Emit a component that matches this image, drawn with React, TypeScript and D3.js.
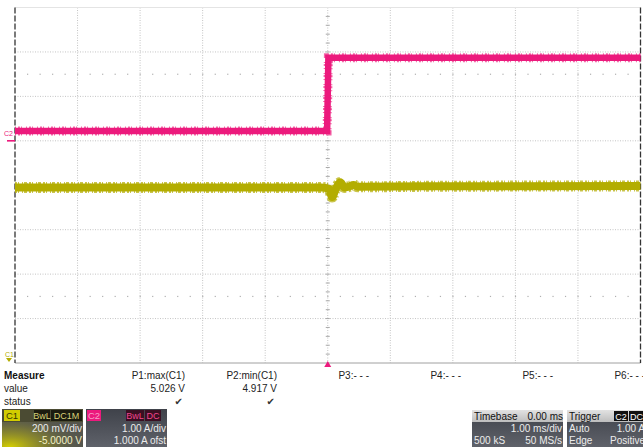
import React from "react";
import * as d3 from "d3";

// time axis (ms) and screen divisions
const timeDivs = d3.range(-5, 5.01, 1);
const vertDivs = d3.range(-4, 4.01, 1);

// C2 current trace (A), 1.00 A/div, 1.000 A offset
const c2Time = [-5, -0.01, 0.01, 5];
const c2Amps = [0.22, 0.22, 1.87, 1.87];

// C1 voltage trace (V), 200 mV/div, -5.0000 V offset
const c1Time = [-5, -0.1, 0.02, 0.07, 0.13, 0.2, 0.27, 0.34, 0.41, 0.48, 1.5, 5];
const c1Volts = [4.99, 4.99, 4.984, 4.947, 4.985, 5.013, 4.99, 4.994, 5.001, 4.993, 4.995, 4.997];

const measureLabels = ["P1:max(C1)", "P2:min(C1)", "P3:- - -", "P4:- - -", "P5:- - -", "P6:- - -"];
const measureValues = ["5.026 V", "4.917 V", "", "", "", ""];
const measureStatus = [true, true, false, false, false, false];

const PINK = "#ec1a7d";
const OLIVE = "#b3ad00";
const FONT = "'Liberation Sans', Arial, sans-serif";

export default function App() {
  const W = 643;
  const H = 447;
  const left = 15, right = 640.5, top = 7.5, bottom = 363;

  const x = d3.scaleLinear().domain([-5, 5]).range([left, right]);
  const yDiv = d3.scaleLinear().domain([-4, 4]).range([bottom, top]);
  const yC2 = d3.scaleLinear().domain([-5, 3]).range([bottom, top]);
  const yC1 = d3.scaleLinear().domain([4.2, 5.8]).range([bottom, top]);

  const c2Line = d3.line<number>().x((_, i) => x(c2Time[i])).y((d) => yC2(d));
  const c1Line = d3
    .line<number>()
    .x((_, i) => x(c1Time[i]))
    .y((d) => yC1(d))
    .curve(d3.curveMonotoneX);

  const minor = d3.range(-5, 5.001, 0.2);
  const minorV = d3.range(-4, 4.001, 0.2);
  const colRight = d3.scaleLinear().domain([0, 5]).range([185, 645]);

  const grid = "#c4c4c4";

  return (
    <svg
      width={W}
      height={H}
      style={{ position: "absolute", left: 0, top: 0, display: "block", background: "#fff" }}
      fontFamily={FONT}
    >
      <defs>
        <radialGradient id="c1glow" cx="0.1" cy="1" r="0.9">
          <stop offset="0" stopColor="#d6d000" />
          <stop offset="0.55" stopColor="#8d8a2a" stopOpacity="0.6" />
          <stop offset="1" stopColor="#55564d" stopOpacity="0" />
        </radialGradient>
        <linearGradient id="darkbg" x1="0" y1="0" x2="0" y2="1">
          <stop offset="0" stopColor="#3f424a" />
          <stop offset="1" stopColor="#5f626a" />
        </linearGradient>
        <linearGradient id="lightbg" x1="0" y1="0" x2="0" y2="1">
          <stop offset="0" stopColor="#e2e2e2" />
          <stop offset="1" stopColor="#bdbdbd" />
        </linearGradient>
      </defs>

      {/* grid */}
      {timeDivs.slice(1, -1).map((t) => (
        <line key={"v" + t} x1={x(t)} x2={x(t)} y1={top} y2={bottom} stroke={grid} strokeDasharray="1 1.5" />
      ))}
      {vertDivs.slice(1, -1).map((d) => (
        <line key={"h" + d} x1={left} x2={right} y1={yDiv(d)} y2={yDiv(d)} stroke={grid} strokeDasharray="1 1.5" />
      ))}
      {[-2.5, 2.5].map((d) =>
        minor.slice(1, -1).map((t) => (
          <rect key={"dot" + d + t} x={x(t) - 0.5} y={yDiv(d) - 0.5} width={1.2} height={1.2} fill="#b0b0b0" />
        ))
      )}
      {minorV.slice(1, -1).map((d) => (
        <line key={"cv" + d} x1={x(0) - 2} x2={x(0) + 2} y1={yDiv(d)} y2={yDiv(d)} stroke="#a8a8a8" />
      ))}
      {minor.slice(1, -1).map((t) => (
        <line key={"ch" + t} x1={x(t)} x2={x(t)} y1={yDiv(0) - 2} y2={yDiv(0) + 2} stroke="#a8a8a8" />
      ))}
      <line x1={left} x2={right} y1={top} y2={top} stroke="#e4e4e4" />
      <line x1={left} x2={right} y1={bottom} y2={bottom} stroke="#a0a0a0" />
      <line x1={left} x2={left} y1={top} y2={bottom} stroke="#333" strokeWidth={1.3} strokeDasharray="6 2" />
      <line x1={right} x2={right} y1={top} y2={bottom} stroke="#333" strokeWidth={1.3} strokeDasharray="6 2" />

      {/* C1 trace */}
      <path d={c1Line(c1Volts) || ""} fill="none" stroke={OLIVE} strokeWidth={11} strokeOpacity={0.7} strokeDasharray="2 1 1 3 1 1 3 2" />
      <path d={c1Line(c1Volts) || ""} fill="none" stroke={OLIVE} strokeWidth={8} />

      {/* C2 trace */}
      <path d={c2Line(c2Amps) || ""} fill="none" stroke={PINK} strokeWidth={9} strokeOpacity={0.65} strokeDasharray="1 2 2 1 1 4" />
      <path d={c2Line(c2Amps) || ""} fill="none" stroke={PINK} strokeWidth={6.5} />
      <line x1={x(0) + 0.5} x2={x(0) + 0.5} y1={yC2(c2Amps[0])} y2={yC2(c2Amps[3])} stroke={PINK} strokeWidth={1.2} />

      {/* channel markers */}
      <text x={4} y={136} fontSize={7} fill={PINK}>C2</text>
      <line x1={7} x2={15} y1={yC2(0)} y2={yC2(0)} stroke={PINK} strokeWidth={1.6} />
      <text x={5} y={357} fontSize={7} fill={OLIVE}>C1</text>
      <path d="M6,358 L12,358 L9,362 Z" fill={OLIVE} />
      <path d={`M${x(0) - 3.5},367 L${x(0) + 3.5},367 L${x(0)},361 Z`} fill={PINK} />

      {/* measure table */}
      <text x={4} y={379} fontSize={10} fontWeight="bold" fill="#111">Measure</text>
      <text x={4} y={392} fontSize={10} fill="#222">value</text>
      <text x={4} y={405} fontSize={10} fill="#222">status</text>
      {measureLabels.map((m, i) => (
        <g key={m}>
          <text x={colRight(i)} y={379} fontSize={10} textAnchor="end" fill="#222">{m}</text>
          {measureValues[i] && (
            <text x={colRight(i)} y={392} fontSize={10} textAnchor="end" fill="#222">{measureValues[i]}</text>
          )}
          {measureStatus[i] && (
            <text x={colRight(i) - 2} y={405} fontSize={10} textAnchor="end" fill="#333" fontFamily="DejaVu Sans">✔</text>
          )}
        </g>
      ))}

      {/* C1 badge */}
      <rect x={2} y={409} width={81} height={38} fill="#55564e" />
      <rect x={2} y={409} width={81} height={38} fill="url(#c1glow)" />
      <rect x={2} y={409} width={81} height={13} fill="#4b4b33" />
      <rect x={4} y={410} width={16} height={11} fill="#d2cc00" />
      <text x={6} y={419} fontSize={9.5} fill="#3a3800">C1</text>
      <rect x={34} y={410} width={16} height={11} fill="#1c1c10" />
      <text x={42} y={419} fontSize={9} textAnchor="middle" fill="#d8d27a">BwL</text>
      <rect x={51} y={410} width={31} height={11} fill="#1c1c10" />
      <text x={66.5} y={419} fontSize={9} textAnchor="middle" fill="#d8d27a">DC1M</text>
      <text x={82} y={432} fontSize={10} textAnchor="end" fill="#ececec">200 mV/div</text>
      <text x={82} y={444} fontSize={10} textAnchor="end" fill="#f4f2c8">-5.0000 V</text>

      {/* C2 badge */}
      <rect x={86} y={409} width={81} height={38} fill="url(#darkbg)" />
      <rect x={87} y={410} width={14} height={11} fill={PINK} />
      <text x={88} y={419} fontSize={9.5} fill="#f7a0c8">C2</text>
      <rect x={126} y={410} width={18} height={11} fill="#3a0f22" />
      <text x={135} y={419} fontSize={9} textAnchor="middle" fill="#f0468e">BwL</text>
      <rect x={145} y={410} width={16} height={11} fill="#3a0f22" />
      <text x={153} y={419} fontSize={9} textAnchor="middle" fill="#f0468e">DC</text>
      <text x={166} y={432} fontSize={10} textAnchor="end" fill="#ececec">1.00 A/div</text>
      <text x={166} y={444} fontSize={10} textAnchor="end" fill="#ececec">1.000 A ofst</text>

      {/* Timebase */}
      <rect x={472} y={410} width={91} height={37} fill="url(#darkbg)" />
      <rect x={472} y={410} width={91} height={12} fill="url(#lightbg)" />
      <text x={474} y={420} fontSize={10} fill="#111">Timebase</text>
      <text x={563} y={420} fontSize={10} textAnchor="end" fill="#111">0.00 ms</text>
      <text x={562} y={432} fontSize={10} textAnchor="end" fill="#ececec">1.00 ms/div</text>
      <text x={474} y={444} fontSize={10} fill="#ececec">500 kS</text>
      <text x={562} y={444} fontSize={10} textAnchor="end" fill="#ececec">50 MS/s</text>

      {/* Trigger */}
      <rect x={567} y={410} width={76} height={37} fill="url(#darkbg)" />
      <rect x={567} y={410} width={76} height={12} fill="url(#lightbg)" />
      <text x={569} y={420} fontSize={10} fill="#111">Trigger</text>
      <rect x={614} y={411} width={14} height={10} fill="#111" />
      <text x={621} y={419.5} fontSize={9} textAnchor="middle" fill="#fff">C2</text>
      <rect x={629} y={411} width={14} height={10} fill="#111" />
      <text x={630} y={419.5} fontSize={9} fill="#fff">DC</text>
      <text x={569} y={432} fontSize={10} fill="#ececec">Auto</text>
      <text x={645} y={432} fontSize={10} textAnchor="end" fill="#ececec">1.00 A</text>
      <text x={569} y={444} fontSize={10} fill="#ececec">Edge</text>
      <text x={645} y={444} fontSize={10} textAnchor="end" fill="#ececec">Positive</text>
    </svg>
  );
}
